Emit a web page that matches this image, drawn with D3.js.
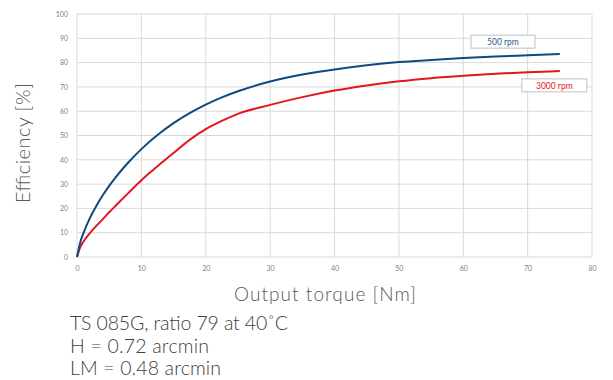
<!DOCTYPE html>
<html>
<head>
<meta charset="utf-8">
<script src="https://cdn.jsdelivr.net/npm/d3@7"></script>
<style>
	body { margin: 0; background: #fff; }
	text { font-family: Lato, "Open Sans", sans-serif; }
	.tick text { fill: #7f7f7f; font-size: 7px; }
	.grid line { stroke: #d9d9d9; stroke-width: 1; }
	.axisLabel { fill: #595959; font-weight: 300; }
	.note { fill: #404040; font-size: 19.5px; font-weight: 300; }
</style>
</head>
<body>
<div id="chart"></div>
<script>
var torque = [0, 0.5, 1, 2, 3, 4, 5, 6, 8, 10, 12.5, 15, 17.5, 20, 22.5, 25, 30, 35, 40, 45, 50, 55, 60, 65, 70, 75];
var rpm500 = [0, 6, 9.8, 16, 21, 25.4, 29.3, 32.8, 39, 44.4, 50.2, 55.1, 59.2, 62.7, 65.7, 68.2, 72.2, 75.1, 77.2, 78.9, 80.2, 81.1, 81.9, 82.5, 83, 83.5];
var rpm3000 = [0, 4, 6.3, 9.8, 12.8, 15.6, 18.4, 21.1, 26.4, 31.6, 37.3, 42.8, 48.2, 52.6, 56, 58.9, 62.6, 65.8, 68.5, 70.6, 72.3, 73.6, 74.6, 75.4, 76, 76.5];
var xTicks = [0, 10, 20, 30, 40, 50, 60, 70, 80];
var yTicks = [0, 10, 20, 30, 40, 50, 60, 70, 80, 90, 100];
var noteLines = ["TS 085G, ratio 79 at 40˚C", "H = 0.72 arcmin", "LM = 0.48 arcmin"];
var noteWidths = [218, 139, 151];

var margin = {left: 77, top: 14, right: 21, bottom: 123},
	width = 613 - margin.left - margin.right,
	height = 380 - margin.top - margin.bottom;

var xScale = d3.scaleLinear().domain([0, 80]).range([0, width]);
var yScale = d3.scaleLinear().domain([0, 100]).range([height, 0]);

var svg = d3.select("#chart")
	.append("svg")
	.attr("width", 613)
	.attr("height", 380)
;

var plot = svg.append("g")
	.attr("transform", "translate(" + margin.left + "," + margin.top + ")")
;

// gridlines
plot.append("g")
	.attr("class", "grid")
	.selectAll("line.v")
	.data(xTicks)
	.enter()
	.append("line")
	.attr("x1", function(d) { return xScale(d); })
	.attr("x2", function(d) { return xScale(d); })
	.attr("y1", 0)
	.attr("y2", height)
;
plot.append("g")
	.attr("class", "grid")
	.selectAll("line.h")
	.data(yTicks)
	.enter()
	.append("line")
	.attr("x1", 0)
	.attr("x2", width)
	.attr("y1", function(d) { return yScale(d); })
	.attr("y2", function(d) { return yScale(d); })
;

// axes (labels only)
var xAxis = plot.append("g")
	.attr("transform", "translate(0," + height + ")")
	.call(d3.axisBottom(xScale).tickValues(xTicks).tickSize(0).tickPadding(9))
;
xAxis.select(".domain").remove();

var yAxis = plot.append("g")
	.call(d3.axisLeft(yScale).tickValues(yTicks).tickSize(0).tickPadding(9))
;
yAxis.select(".domain").remove();

// curves
var line = d3.line()
	.x(function(d) { return xScale(d[0]); })
	.y(function(d) { return yScale(d[1]); })
	.curve(d3.curveMonotoneX)
;

plot.append("path")
	.datum(d3.zip(torque, rpm3000))
	.attr("fill", "none")
	.attr("stroke", "#e3161c")
	.attr("stroke-width", 2)
	.attr("d", line)
;
plot.append("path")
	.datum(d3.zip(torque, rpm500))
	.attr("fill", "none")
	.attr("stroke", "#0e4a80")
	.attr("stroke-width", 2)
	.attr("d", line)
;

// series labels
function seriesLabel(x, y, w, txt, color) {
	var g = plot.append("g");
	g.append("rect")
		.attr("x", xScale(x))
		.attr("y", yScale(y))
		.attr("width", w)
		.attr("height", 13)
		.attr("fill", "#fff")
		.attr("stroke", "#bfbfbf")
		.attr("stroke-width", 1)
	;
	g.append("text")
		.attr("x", xScale(x) + w / 2)
		.attr("y", yScale(y) + 10)
		.attr("text-anchor", "middle")
		.attr("fill", color)
		.attr("font-size", "8.5px")
		.text(txt)
	;
}
seriesLabel(61.2, 91.3, 64, "500 rpm", "#2f5b8c");
seriesLabel(69.1, 73.3, 65, "3000 rpm", "#e3161c");

/*
	Axis titles
*/
svg.append("text")
	.attr("class", "axisLabel")
	.attr("transform", "translate(29.5,143) rotate(-90)")
	.attr("text-anchor", "middle")
	.attr("font-size", "20px")
	.attr("textLength", 120)
	.attr("lengthAdjust", "spacing")
	.text("Efficiency [%]")
;
svg.append("text")
	.attr("class", "axisLabel")
	.attr("x", 325)
	.attr("y", 301)
	.attr("text-anchor", "middle")
	.attr("font-size", "19px")
	.attr("textLength", 182)
	.attr("lengthAdjust", "spacing")
	.text("Output torque [Nm]")
;

// notes
svg.selectAll("text.note")
	.data(noteLines)
	.enter()
	.append("text")
	.attr("class", "note")
	.attr("x", 70)
	.attr("y", function(d, i) { return 330 + i * 22.5; })
	.attr("textLength", function(d, i) { return noteWidths[i]; })
	.attr("lengthAdjust", "spacing")
	.text(function(d) { return d; })
;
</script>
</body>
</html>
